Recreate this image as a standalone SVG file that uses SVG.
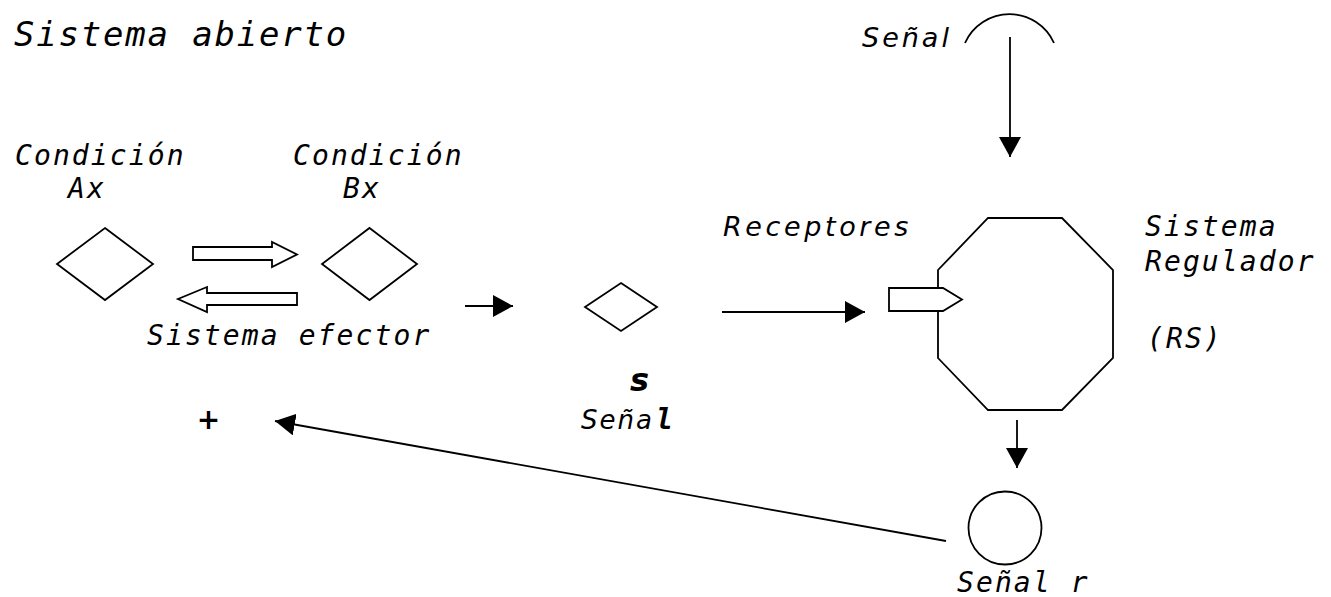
<svg xmlns="http://www.w3.org/2000/svg" width="1331" height="597" viewBox="0 0 1331 597">
  <style>
    .mono { font-family: "DejaVu Sans Mono", "Liberation Mono", monospace; font-style: italic; font-size: 28px; letter-spacing: 2.1px; fill: #000; }
    .title { font-size: 34px; letter-spacing: 1.8px; }
    .sans { font-family: "DejaVu Sans", "Liberation Sans", sans-serif; font-style: italic; fill: #000; }
    .shape { fill: #fff; stroke: #000; stroke-width: 1.8; }
    .wire { fill: none; stroke: #000; stroke-width: 1.8; }
  </style>
  <defs>
    <marker id="head" markerUnits="userSpaceOnUse" markerWidth="21" markerHeight="22" refX="20" refY="11" orient="auto">
      <path d="M0,0 L20,11 L0,22 z" fill="#000"/>
    </marker>
  </defs>

  <rect width="1331" height="597" fill="#fff"/>

  <text class="mono title" x="14" y="46">Sistema abierto</text>

  <!-- condition A -->
  <g id="cond-a">
    <text class="mono" x="15" y="165">Condición</text>
    <text class="mono" x="68" y="198">Ax</text>
    <polygon class="shape" points="105,228 153,264 105,300 57,264"/>
  </g>

  <!-- condition B -->
  <g id="cond-b">
    <text class="mono" x="293" y="165">Condición</text>
    <text class="mono" x="343" y="198">Bx</text>
    <polygon class="shape" points="369.5,228 417,264 369.5,300 322,264"/>
  </g>

  <!-- effector system label -->
  <g id="effector">
    <text class="mono" x="147" y="345">Sistema efector</text>
  </g>

  <!-- signal s -->
  <g id="signal-s">
    <polygon class="shape" points="621,283 657,307 621,331 585,307"/>
    <text class="sans" x="630" y="391" font-size="32" font-weight="bold">s</text>
    <text class="sans" x="581" y="429" font-size="26" letter-spacing="2">Seña<tspan x="656" font-family="DejaVu Sans Mono, monospace" font-weight="bold" font-size="28" letter-spacing="0">l</tspan></text>
  </g>

  <!-- incoming signal -->
  <g id="signal-in">
    <text class="sans" x="862" y="47" font-size="27" letter-spacing="3">Señal</text>
    <path class="wire" d="M965,43 A48.75,48.75 0 0 1 1054,43"/>
  </g>

  <!-- regulator system -->
  <g id="regulator">
    <text class="sans" x="723" y="236" font-size="27" letter-spacing="3.6">Receptores</text>
    <polygon class="shape" points="988,218 1062,218 1113,270 1113,358 1062,410 988,410 938,358 938,270"/>
    <polygon class="shape" points="889,288 943,288 962,299.5 943,311 889,311"/>
    <text class="mono" x="1145" y="236">Sistema</text>
    <text class="mono" x="1145" y="271">Regulador</text>
    <text class="mono" x="1147" y="348">(RS)</text>
  </g>

  <!-- signal r -->
  <g id="signal-r">
    <circle class="shape" cx="1005" cy="528" r="36.5"/>
    <text class="mono" x="957" y="592">Señal r</text>
  </g>

  <!-- plus -->
  <g id="plus">
    <text x="208.5" y="429" text-anchor="middle" font-family="DejaVu Sans, sans-serif" font-weight="bold" font-size="28">+</text>
  </g>

  <g id="connectors">
    <!-- effector block arrows -->
    <polygon class="shape" points="193,247 272,247 272,242 297,254.5 272,267 272,260 193,260"/>
    <polygon class="shape" points="297,293 207,293 207,287 178,299 207,312 207,305 297,305"/>
    <line class="wire" x1="465" y1="306" x2="513" y2="306" marker-end="url(#head)"/>
    <line class="wire" x1="722" y1="312" x2="865" y2="312" marker-end="url(#head)"/>
    <line class="wire" x1="1010" y1="37" x2="1010" y2="157" marker-end="url(#head)"/>
    <line class="wire" x1="1017" y1="420" x2="1017" y2="468" marker-end="url(#head)"/>
    <line class="wire" x1="946" y1="541" x2="275" y2="421" marker-end="url(#head)"/>
  </g>
</svg>
